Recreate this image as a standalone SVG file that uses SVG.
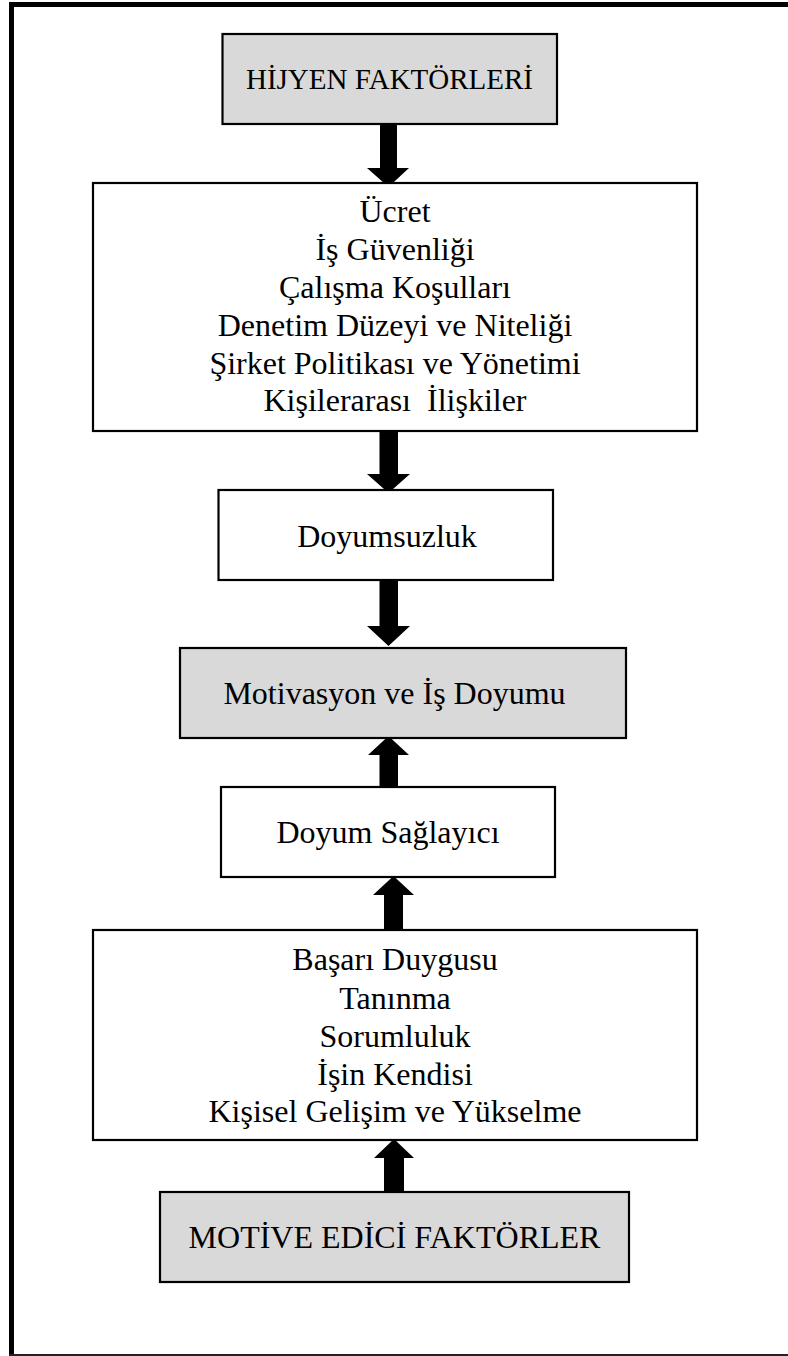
<svg xmlns="http://www.w3.org/2000/svg" width="788" height="1356" viewBox="0 0 788 1356">
  <style>
    .box { stroke: #000; stroke-width: 2.2; }
    .plain { fill: #fff; }
    .shade { fill: #d9d9d9; }
    .lbl { font-family: "Liberation Serif", "Times New Roman", serif; font-size: 32px; fill: #000; text-anchor: middle; }
    .head { font-size: 29px; }
    .arrow { fill: #000; }
  </style>
  <rect x="0" y="0" width="788" height="1356" fill="#fff"/>

  <!-- page frame: heavy top and left rules, hairline at the bottom -->
  <g id="frame">
    <rect x="9" y="2" width="779" height="5" fill="#000"/>
    <rect x="9" y="2" width="5" height="1354" fill="#000"/>
    <rect x="9" y="1354" width="779" height="2" fill="#222"/>
  </g>

  <!-- block arrows -->
  <g id="connectors" class="arrow">
    <polygon points="380,124 397,124 397,168 409,168 388.5,187 367,168 380,168"/>
    <polygon points="379.5,431 398,431 398,474 410,474 388.5,493 367,474 379.5,474"/>
    <polygon points="379.5,580 398,580 398,626 410,626 388.5,646 367,626 379.5,626"/>
    <polygon points="379.5,787 398,787 398,755 409,755 388.5,736 368,755 379.5,755"/>
    <polygon points="384,930 403,930 403,895 414,895 393.5,876 373,895 384,895"/>
    <polygon points="384,1192 404,1192 404,1158 414,1158 394,1139 374,1158 384,1158"/>
  </g>

  <g id="hijyen">
    <rect class="box shade" x="222.5" y="34" width="334.5" height="90"/>
    <text class="lbl head" x="389.5" y="89">HİJYEN FAKTÖRLERİ</text>
  </g>

  <g id="hijyen-list">
    <rect class="box plain" x="93" y="183" width="604" height="248"/>
    <text class="lbl" x="395" y="222">Ücret</text>
    <text class="lbl" x="395" y="260">İş Güvenliği</text>
    <text class="lbl" x="395" y="298">Çalışma Koşulları</text>
    <text class="lbl" x="395" y="336">Denetim Düzeyi ve Niteliği</text>
    <text class="lbl" x="395" y="374">Şirket Politikası ve Yönetimi</text>
    <text class="lbl" x="395" y="411">Kişilerarası&#160; İlişkiler</text>
  </g>

  <g id="doyumsuzluk">
    <rect class="box plain" x="218.5" y="490" width="334.5" height="90"/>
    <text class="lbl" x="387" y="547">Doyumsuzluk</text>
  </g>

  <g id="motivasyon">
    <rect class="box shade" x="180" y="648" width="446" height="90"/>
    <text class="lbl" x="394.5" y="704">Motivasyon ve İş Doyumu</text>
  </g>

  <g id="doyum-saglayici">
    <rect class="box plain" x="221" y="787" width="334" height="90"/>
    <text class="lbl" x="388" y="843">Doyum Sağlayıcı</text>
  </g>

  <g id="motive-list">
    <rect class="box plain" x="93" y="930" width="604" height="210"/>
    <text class="lbl" x="395" y="970">Başarı Duygusu</text>
    <text class="lbl" x="395" y="1009">Tanınma</text>
    <text class="lbl" x="395" y="1047">Sorumluluk</text>
    <text class="lbl" x="395" y="1085">İşin Kendisi</text>
    <text class="lbl" x="395" y="1122">Kişisel Gelişim ve Yükselme</text>
  </g>

  <g id="motive">
    <rect class="box shade" x="160" y="1192" width="469" height="90"/>
    <text class="lbl" x="394.5" y="1248">MOTİVE EDİCİ FAKTÖRLER</text>
  </g>
</svg>
